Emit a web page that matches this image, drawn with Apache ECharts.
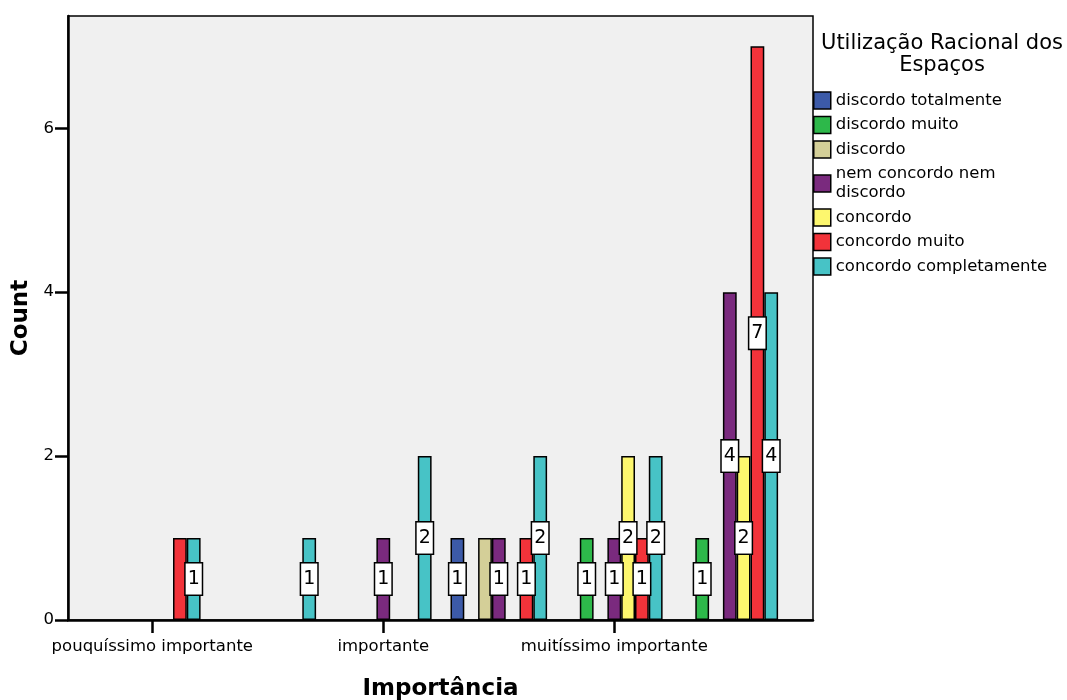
<!DOCTYPE html>
<html>
<head>
<meta charset="utf-8">
<script src="https://cdn.jsdelivr.net/npm/echarts@6/dist/echarts.min.js"></script>
<style>
  html, body { margin: 0; padding: 0; background: #fff; }
  #chart { width: 1067px; height: 700px; }
</style>
</head>
<body>
<div id="chart"></div>
<script>
// ---- Data ----
const categories = ['pouquíssimo importante', 'pouco importante', 'importante', 'muito importante', 'muitíssimo importante', 'extremamente importante'];
const seriesNames = ['discordo totalmente', 'discordo muito', 'discordo', 'nem concordo nem discordo', 'concordo', 'concordo muito', 'concordo completamente'];
const discordoTotalmente     = [0, 0, 0, 1, 0, 0];
const discordoMuito          = [0, 0, 0, 0, 1, 1];
const discordo               = [0, 0, 0, 1, 0, 0];
const nemConcordoNemDiscordo = [0, 0, 1, 1, 1, 4];
const concordo               = [0, 0, 0, 0, 2, 2];
const concordoMuito          = [1, 0, 0, 1, 1, 7];
const concordoCompletamente  = [1, 1, 2, 2, 2, 4];
const seriesValues = [discordoTotalmente, discordoMuito, discordo, nemConcordoNemDiscordo, concordo, concordoMuito, concordoCompletamente];
const yTicks = [0, 2, 4, 6];
const yMax = 7.37;
// labels hidden in the original because they overlapped a neighbour
const hiddenLabels = [
  { series: 'discordo', category: 'muito importante' },
  { series: 'concordo muito', category: 'pouquíssimo importante' }
];

const colors = ['#3c5aa8', '#2db84a', '#d4cf98', '#7a2a7e', '#fdf76e', '#f2333a', '#47c3c6'];
const FONT = 'DejaVu Sans';

const series = seriesNames.map((name, si) => ({
  name,
  type: 'bar',
  xAxisIndex: 1,
  yAxisIndex: 1,
  barWidth: 13.8,
  barGap: '0%',
  itemStyle: { color: colors[si], borderColor: '#000', borderWidth: 1.5 },
  label: {
    show: true,
    position: 'inside',
    color: '#000',
    fontFamily: FONT,
    fontSize: 19,
    lineHeight: 21,
    backgroundColor: '#fff',
    borderColor: '#000',
    borderWidth: 1.5,
    padding: [5, 2]
  },
  data: seriesValues[si].map((v, ci) => {
    if (!v) return '-';
    const hide = hiddenLabels.some(h => h.series === name && h.category === categories[ci]);
    return hide ? { value: v, label: { show: false } } : v;
  })
}));

const chart = echarts.init(document.getElementById('chart'), null, { renderer: 'canvas' });
chart.setOption({
  animation: false,
  color: colors,
  textStyle: { fontFamily: FONT },
  title: {
    text: 'Utilização Racional dos\nEspaços',
    left: 942,
    top: 32,
    padding: 0,
    textAlign: 'center',
    textStyle: { fontFamily: FONT, fontSize: 21, fontWeight: 'normal', color: '#000', lineHeight: 22.5 }
  },
  legend: {
    orient: 'vertical',
    left: 813,
    top: 91,
    padding: 0,
    itemGap: 5.5,
    itemWidth: 17,
    itemHeight: 17,
    icon: 'rect',
    itemStyle: { borderColor: '#000', borderWidth: 1.5 },
    textStyle: { fontFamily: FONT, fontSize: 16.5, color: '#000', lineHeight: 19 },
    formatter: name => name === 'nem concordo nem discordo' ? 'nem concordo nem\ndiscordo' : name,
    data: seriesNames
  },
  grid: [
    { left: 68, right: 254, top: 16, bottom: 80, outerBoundsMode: 'none', containLabel: false,
      show: true, backgroundColor: '#f0f0f0', borderColor: '#000', borderWidth: 1.5 },
    { left: 94.55, right: 279.45, top: 16, bottom: 80, outerBoundsMode: 'none', containLabel: false }
  ],
  xAxis: [
    {
      gridIndex: 0, type: 'value', min: 0, max: 1,
      axisLine: { show: true, lineStyle: { color: '#000', width: 2.5 } },
      axisTick: { show: false }, axisLabel: { show: false }, splitLine: { show: false },
      name: 'Importância', nameLocation: 'middle', nameGap: 58,
      nameTextStyle: { fontFamily: FONT, fontSize: 23, fontWeight: 'bold', color: '#000' }
    },
    {
      gridIndex: 1, type: 'category', data: categories,
      axisLine: { show: false },
      axisTick: { show: true, alignWithLabel: true, interval: 1, length: 13, lineStyle: { color: '#000', width: 2.5 } },
      axisLabel: { interval: 1, margin: 18, color: '#000', fontFamily: FONT, fontSize: 16.5 },
      splitLine: { show: false }
    }
  ],
  yAxis: [
    {
      gridIndex: 0, type: 'value', min: 0, max: yMax,
      axisLine: { show: true, lineStyle: { color: '#000', width: 2.5 } },
      axisTick: { show: true, length: 13, customValues: yTicks, lineStyle: { color: '#000', width: 2.5 } },
      axisLabel: { customValues: yTicks, margin: 14, color: '#000', fontFamily: FONT, fontSize: 16.5 },
      splitLine: { show: false },
      name: 'Count', nameLocation: 'middle', nameGap: 29,
      nameTextStyle: { fontFamily: FONT, fontSize: 23, fontWeight: 'bold', color: '#000' }
    },
    { gridIndex: 1, type: 'value', min: 0, max: yMax, show: false }
  ],
  series
});
</script>
</body>
</html>
